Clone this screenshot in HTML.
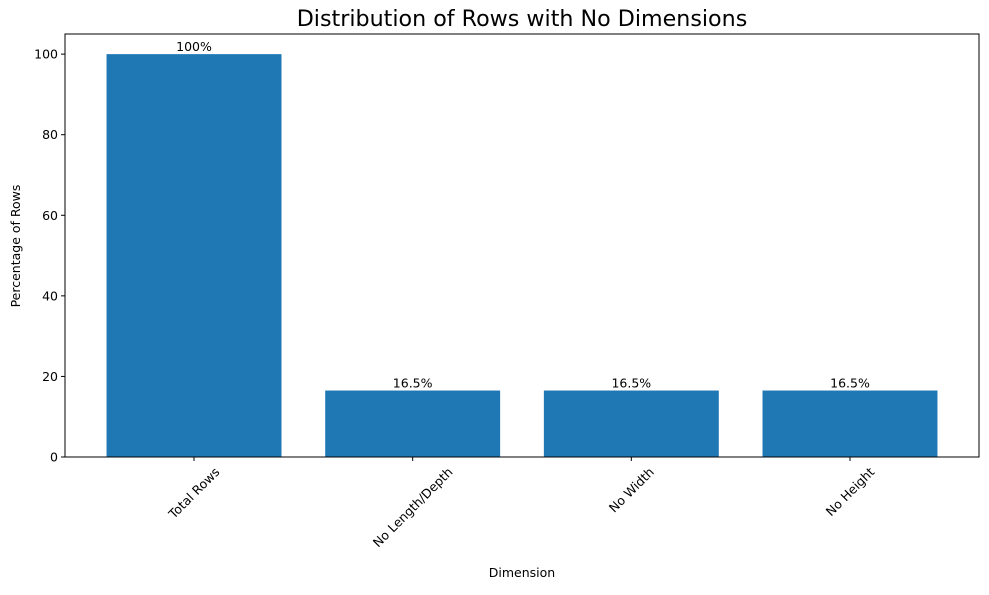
<!DOCTYPE html>
<html><head><meta charset="utf-8"><style>
body{margin:0;background:#fff;}
svg text{font-family:"DejaVu Sans","Liberation Sans",sans-serif;fill:#000;}
</style></head><body>
<svg id="chart" width="989" height="590" viewBox="0 0 989 590" xmlns="http://www.w3.org/2000/svg">
<rect width="989" height="590" fill="#fff"/>
<text x="522" y="26" font-size="22.2" text-anchor="middle">Distribution of Rows with No Dimensions</text>
<g id="plot"></g>
<text x="522" y="577" font-size="12.5" text-anchor="middle">Dimension</text>
<text transform="translate(20,246) rotate(-90)" font-size="12.5" text-anchor="middle">Percentage of Rows</text>
</svg>
<script>
const categories=["Total Rows","No Length/Depth","No Width","No Height"];
const values=[100,16.5,16.5,16.5];
const valueLabels=["100%","16.5%","16.5%","16.5%"];
const yTicks=[0,20,40,60,80,100];
const L=65,R=979,T=34,B=457,yMax=105;
const NS="http://www.w3.org/2000/svg";
const g=document.getElementById('plot');
function y(v){return B-(v/yMax)*(B-T);}
const pad=0.59;
const step=(R-L)/(categories.length-1+2*pad);
function x(i){return L+(i+pad)*step;}
const bw=step*0.8;
function mk(t,a){const e=document.createElementNS(NS,t);for(const k in a)e.setAttribute(k,a[k]);g.appendChild(e);return e;}
values.forEach((v,i)=>{
 const r=mk('rect',{x:x(i)-bw/2,y:y(v),width:bw,height:B-y(v),fill:'#1f77b4'});
 
 
 const t=mk('text',{x:x(i),y:y(v)-3,'font-size':12.5,'text-anchor':'middle'});
 t.textContent=valueLabels[i];
 
 
 const tk=mk('line',{x1:x(i),x2:x(i),y1:B,y2:B+4,stroke:'#000'});
 
 
 const lb=mk('text',{'font-size':12.5,'text-anchor':'middle',x:0,y:4.5});
 lb.textContent=categories[i];
 
 
 const w=lb.getComputedTextLength(),h=13;
 const cy=B+8+(w+h)/(2*Math.SQRT2);
 lb.setAttribute('transform',`translate(${x(i)},${cy}) rotate(-45)`);
});
yTicks.forEach(v=>{
 const tk=mk('line',{x1:L-4,x2:L,y1:y(v),y2:y(v),stroke:'#000'});
 
 
 const lb=mk('text',{x:L-7,y:y(v)+4.5,'font-size':12.5,'text-anchor':'end'});
 lb.textContent=v;
 
 
});
const fr=mk('rect',{x:L,y:T,width:R-L,height:B-T,fill:'none',stroke:'#000','stroke-width':1});


</script>
</body></html>
